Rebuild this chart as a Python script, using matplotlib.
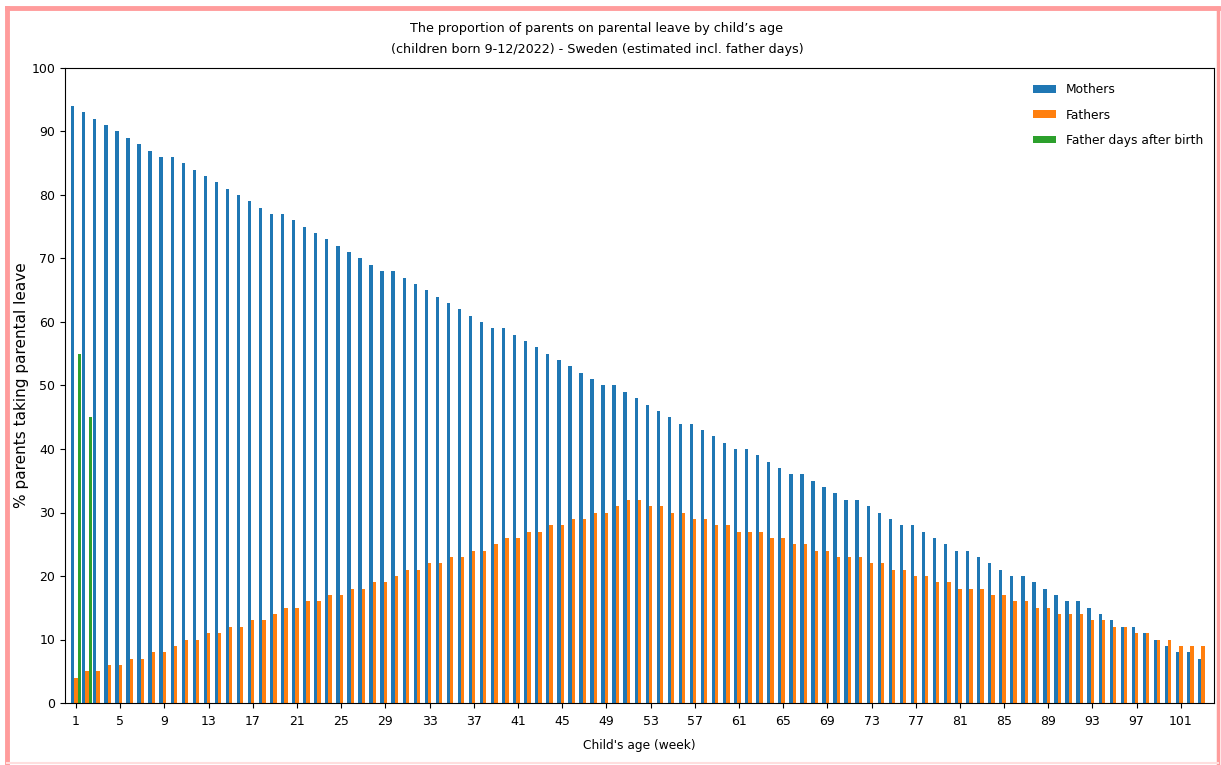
import numpy as np
import matplotlib
matplotlib.use("Agg")
import matplotlib.pyplot as plt
from matplotlib.lines import Line2D

OUT = "out.png"

weeks = list(range(1, 104))
mothers = [94, 93, 92, 91, 90, 89, 88, 87, 86, 86, 85, 84, 83, 82, 81, 80, 79, 78, 77, 77,
           76, 75, 74, 73, 72, 71, 70, 69, 68, 68, 67, 66, 65, 64, 63, 62, 61, 60, 59, 59,
           58, 57, 56, 55, 54, 53, 52, 51, 50, 50, 49, 48, 47, 46, 45, 44, 44, 43, 42, 41,
           40, 40, 39, 38, 37, 36, 36, 35, 34, 33, 32, 32, 31, 30, 29, 28, 28, 27, 26, 25,
           24, 24, 23, 22, 21, 20, 20, 19, 18, 17, 16, 16, 15, 14, 13, 12, 12, 11, 10, 9,
           8, 8, 7]
fathers = [4, 5, 5, 6, 6, 7, 7, 8, 8, 9, 10, 10, 11, 11, 12, 12, 13, 13, 14, 15,
           15, 16, 16, 17, 17, 18, 18, 19, 19, 20, 21, 21, 22, 22, 23, 23, 24, 24, 25, 26,
           26, 27, 27, 28, 28, 29, 29, 30, 30, 31, 32, 32, 31, 31, 30, 30, 29, 29, 28, 28,
           27, 27, 27, 26, 26, 25, 25, 24, 24, 23, 23, 23, 22, 22, 21, 21, 20, 20, 19, 19,
           18, 18, 18, 17, 17, 16, 16, 15, 15, 14, 14, 14, 13, 13, 12, 12, 11, 11, 10, 10,
           9, 9, 9]
father_days_weeks = [1, 2]
father_days = [55, 45]


def main():
    W, H = 1221, 765
    fig = plt.figure(figsize=(W / 100, H / 100), dpi=100)
    ax = fig.add_axes([65 / W, 1 - 703 / H, (1214 - 65) / W, (703 - 68) / H])

    w = 0.3
    x = np.array(weeks)
    ax.bar(x - w, mothers, width=w, color="#1f77b4", label="Mothers")
    ax.bar(x, fathers, width=w, color="#ff7f0e", label="Fathers")
    ax.bar(np.array(father_days_weeks) + w, father_days, width=w, color="#2ca02c",
           label="Father days after birth")

    ax.set_xlim(0, 104)
    ax.set_ylim(0, 100)
    ax.set_xticks(weeks[::4])
    ax.set_yticks(range(0, 101, 10))
    ax.tick_params(labelsize=9)
    ax.tick_params(axis="x", pad=5)
    ax.set_xlabel("Child's age (week)", fontsize=8.8, labelpad=8)
    ax.set_ylabel("% parents taking parental leave", fontsize=11)
    ax.yaxis.set_label_coords((29 - 65) / (1214 - 65), 0.5)
    fig.text(597 / W, 1 - 39 / H,
             "The proportion of parents on parental leave by child\u2019s age\n"
             "(children born 9-12/2022) - Sweden (estimated incl. father days)",
             ha="center", va="center", fontsize=9.2, linespacing=1.75)
    ax.legend(loc="upper right", bbox_to_anchor=(1.0, 0.993), frameon=False,
              fontsize=8.8, labelspacing=1.0, handlelength=1.9, handleheight=0.6,
              borderaxespad=0.5)

    # pink frame from the screenshot
    pink = "#ff9c9c"
    tf = fig.transFigure
    fig.add_artist(Line2D([7 / W, 7 / W], [0, 1 - 8 / H], color=pink, lw=3.5, transform=tf))
    fig.add_artist(Line2D([7 / W, 1218 / W], [1 - 8 / H, 1 - 8 / H], color=pink, lw=3.5,
                          transform=tf))
    fig.add_artist(Line2D([1218 / W, 1218 / W], [0, 1 - 8 / H], color=pink, lw=2.5,
                          transform=tf))
    fig.add_artist(Line2D([7 / W, 1218 / W], [1 - 763 / H, 1 - 763 / H], color="#ffdede",
                          lw=1.5, transform=tf))

    fig.savefig(OUT, dpi=100)


if __name__ == "__main__":
    main()
